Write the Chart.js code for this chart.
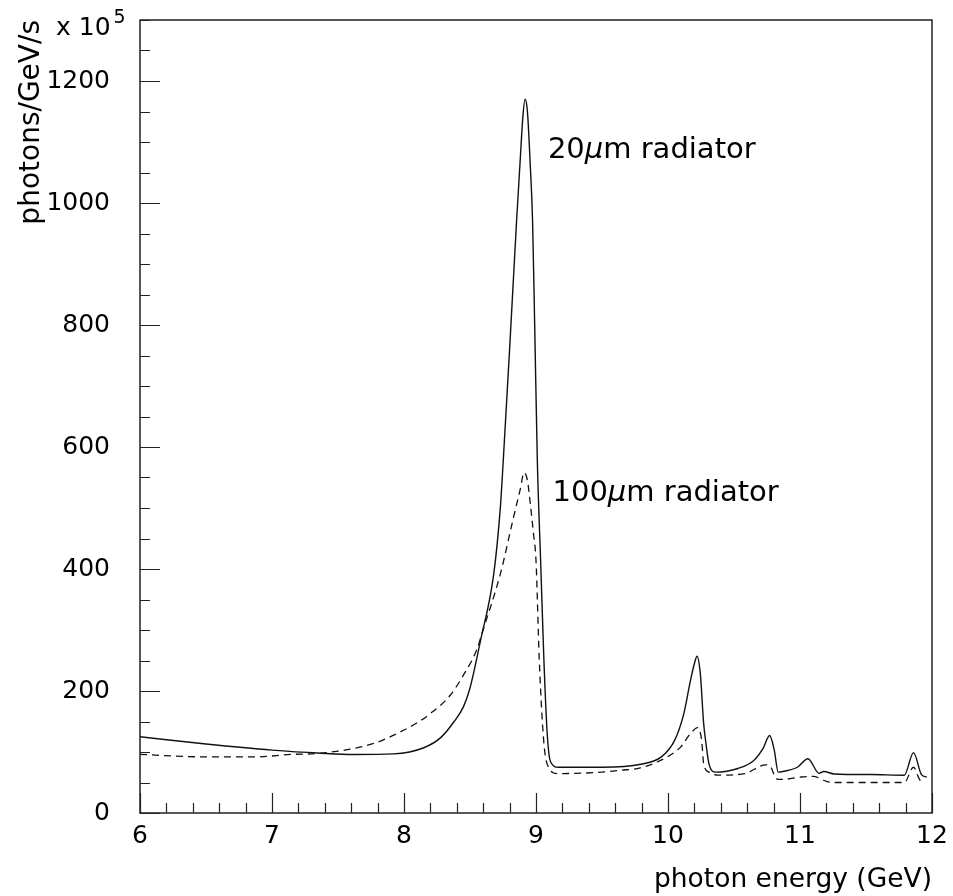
<!DOCTYPE html>
<html>
<head>
<meta charset="utf-8">
<title>photons/GeV/s vs photon energy</title>
<script src="https://cdn.jsdelivr.net/npm/chart.js@4.4.1/dist/chart.umd.min.js"></script>
<style>
  html, body { margin: 0; padding: 0; background: #fff; }
</style>
</head>
<body>
<canvas id="chart" width="953" height="896"></canvas>
<script>
// 20um radiator (solid line)
const energy20 = [6.0, 6.5, 7.0, 7.37, 7.62, 7.92, 8.15, 8.28, 8.38, 8.45, 8.5, 8.58, 8.68, 8.73, 8.752, 8.80, 8.853, 8.88, 8.90, 8.917,
  8.935, 8.955, 8.974, 8.99, 9.01, 9.035, 9.06, 9.085, 9.11, 9.17, 9.5, 9.795, 9.95, 10.05, 10.12, 10.17, 10.20, 10.22,
  10.245, 10.27, 10.29, 10.31, 10.36, 10.53, 10.65, 10.72, 10.77, 10.805, 10.835, 10.87, 10.98, 11.06, 11.145, 11.18,
  11.26, 11.54, 11.79, 11.86, 11.92, 11.96];
const rate20 = [125, 113, 103, 98, 96, 97, 107, 124, 150, 174, 205, 283, 392, 501, 578, 760, 971, 1069, 1140, 1170,
  1150, 1069, 971, 800, 578, 414, 250, 130, 84, 75, 75, 80, 92, 119, 163, 217, 245, 257,
  228, 147, 110, 81, 67, 73, 86, 106, 127, 103, 67, 68, 75, 89, 65, 68,
  64, 63, 62, 99, 63, 59];

// 100um radiator (dashed line)
const energy100 = [6.0, 6.5, 6.88, 7.14, 7.37, 7.77, 8.0, 8.1, 8.2, 8.35, 8.45, 8.55, 8.59, 8.73, 8.83, 8.88, 8.91, 8.935,
  8.96, 8.98, 9.0, 9.025, 9.06, 9.10, 9.16, 9.3, 9.5, 9.64, 9.79, 9.97, 10.095, 10.17, 10.225, 10.255, 10.27, 10.31,
  10.38, 10.58, 10.74, 10.78, 10.82, 10.86, 11.01, 11.10, 11.20, 11.26, 11.79, 11.86, 11.905, 11.94];
const rate100 = [96, 92, 92, 96, 98, 114, 136, 148, 163, 193, 226, 267, 294, 392, 485, 530, 558, 545,
  501, 460, 414, 250, 114, 73, 64.5, 65, 67, 70, 74, 89, 108, 130, 140, 119, 81, 67,
  62, 64.5, 79, 75, 56, 55, 59, 60, 52, 50, 50, 75, 55, 48];

const xRange = [6, 12];
const yRange = [0, 1300];
const xMajor = 1, xMinor = 0.2;
const yMajor = 200, yMinor = 50;

const notes = [
  { x: 9.09, y: 1073, parts: ['20', '\u03bc', 'm radiator'] },
  { x: 9.125, y: 512, parts: ['100', '\u03bc', 'm radiator'] }
];

Chart.defaults.font.family = "'DejaVu Sans', sans-serif";
Chart.defaults.color = '#000';

function toPoints(xs, ys) {
  return xs.map((x, i) => ({ x: x, y: ys[i] }));
}

function noPad(s) {
  s.paddingTop = 0;
  s.paddingBottom = 0;
  s.paddingLeft = 0;
  s.paddingRight = 0;
}

// frame with inward ticks, exponent and curve labels
const paperStyle = {
  id: 'paperStyle',
  afterDraw(chart) {
    const { ctx, chartArea: a, scales: { x, y } } = chart;
    ctx.save();
    ctx.strokeStyle = '#222';
    ctx.lineWidth = 1.5;
    ctx.strokeRect(a.left, a.top, a.right - a.left, a.bottom - a.top);

    ctx.lineWidth = 1.2;
    ctx.beginPath();
    const nx = Math.round((xRange[1] - xRange[0]) / xMinor);
    for (let i = 0; i <= nx; i++) {
      const v = xRange[0] + i * xMinor;
      const px = Math.round(x.getPixelForValue(v)) + 0.5;
      const len = (i % Math.round(xMajor / xMinor) === 0) ? 20 : 10;
      ctx.moveTo(px, a.bottom);
      ctx.lineTo(px, a.bottom - len);
    }
    const ny = Math.floor((yRange[1] - yRange[0]) / yMinor);
    for (let i = 0; i <= ny; i++) {
      const v = yRange[0] + i * yMinor;
      const py = Math.round(y.getPixelForValue(v)) + 0.5;
      const len = (i % Math.round(yMajor / yMinor) === 0) ? 20 : 10;
      ctx.moveTo(a.left, py);
      ctx.lineTo(a.left + len, py);
    }
    ctx.stroke();

    // x 10^5
    ctx.fillStyle = '#000';
    ctx.textBaseline = 'alphabetic';
    ctx.textAlign = 'left';
    ctx.font = "25px 'DejaVu Sans'";
    ctx.fillText('x 10', a.left - 84, a.top + 15);
    const w = ctx.measureText('x 10').width;
    ctx.font = "19px 'DejaVu Sans'";
    ctx.fillText('5', a.left - 84 + w + 3, a.top + 3);

    // curve labels
    notes.forEach(n => {
      let px = x.getPixelForValue(n.x);
      const py = y.getPixelForValue(n.y);
      n.parts.forEach((t, i) => {
        ctx.font = (i === 1 ? 'italic ' : '') + "29px 'DejaVu Sans'";
        ctx.fillText(t, px, py);
        px += ctx.measureText(t).width;
      });
    });
    ctx.restore();
  }
};

new Chart(document.getElementById('chart'), {
  type: 'line',
  data: {
    datasets: [
      {
        label: '20um radiator',
        data: toPoints(energy20, rate20),
        borderColor: '#111',
        borderWidth: 1.4,
        pointRadius: 0,
        cubicInterpolationMode: 'monotone'
      },
      {
        label: '100um radiator',
        data: toPoints(energy100, rate100),
        borderColor: '#111',
        borderWidth: 1.3,
        borderDash: [7, 5],
        pointRadius: 0,
        cubicInterpolationMode: 'monotone'
      }
    ]
  },
  options: {
    responsive: false,
    animation: false,
    layout: { padding: { left: 0, top: 20, right: 21, bottom: 0 } },
    plugins: { legend: { display: false }, tooltip: { enabled: false } },
    scales: {
      x: {
        type: 'linear',
        min: xRange[0],
        max: xRange[1],
        grid: { display: false, drawTicks: false },
        border: { display: false },
        ticks: { stepSize: xMajor, padding: 8, font: { size: 25 }, color: '#000', callback: v => String(v) },
        title: { display: true, text: 'photon energy (GeV)', align: 'end', font: { size: 26.5 }, padding: { top: 0, bottom: 0 }, color: '#000' },
        afterFit: s => { s.height = 83; noPad(s); }
      },
      y: {
        min: yRange[0],
        max: yRange[1],
        grid: { display: false, drawTicks: false },
        border: { display: false },
        ticks: { stepSize: yMajor, includeBounds: false, padding: 30, font: { size: 25 }, color: '#000', callback: v => String(v) },
        title: { display: true, text: 'photons/GeV/s', align: 'end', font: { size: 28 }, padding: { top: 15, bottom: 0 }, color: '#000' },
        afterFit: s => { s.width = 140; noPad(s); }
      }
    }
  },
  plugins: [paperStyle]
});
</script>
</body>
</html>
